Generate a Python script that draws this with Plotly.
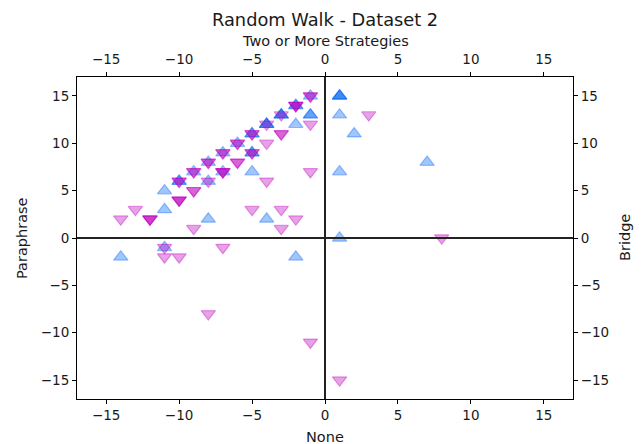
import plotly.graph_objects as go

# Bridge (blue, triangle-up) points; repeated points overlap and look darker
bridge_x = [1, 1, 1, -1, -2, -2, -3, -3, -3, -1, -1, -2, -4, -4, -4, 1, 2,
            -5, -5, -6, -5, -5, -7, -8, -7, -5, -9, -8, -10, -10, -11, -11,
            -8, -4, 1, 7, 1, -11, -14, -2]
bridge_y = [15, 15, 15, 15, 14, 14, 13, 13, 13, 13, 13, 12, 12, 12, 12, 13, 11,
            11, 11, 10, 9, 9, 9, 8, 7, 7, 7, 6, 6, 6, 5, 3,
            2, 2, 7, 8, 0, -1, -2, -2]

# Paraphrase (violet, triangle-down) points
para_x = [-1, -1, -2, -2, -2, -3, -4, -1, -3, -3, -5, -5, -4, -6, -6, -5, -5,
          -7, -7, -6, -6, -8, -8, -7, -7, -7, -9, -9, -8, -10, -10, -4, -1,
          -9, -9, -10, -10, -10, -12, -12, -12, -13, -14, -9, -5, -3, -3, -2,
          -11, -11, -10, -7, -8, -1, 1, 8, 3]
para_y = [15, 15, 14, 14, 14, 13, 12, 12, 11, 11, 11, 11, 10, 10, 10, 9, 9,
          9, 9, 8, 8, 8, 8, 7, 7, 7, 7, 7, 6, 6, 6, 6, 7,
          5, 5, 4, 4, 4, 2, 2, 2, 3, 2, 1, 3, 3, 1, 2,
          -1, -2, -2, -1, -8, -11, -15, 0, 13]

title = "Random Walk - Dataset 2"
x_bottom_label = "None"
x_top_label = "Two or More Strategies"
y_left_label = "Paraphrase"
y_right_label = "Bridge"
axis_range = [-17, 17]
tick_vals = [-15, -10, -5, 0, 5, 10, 15]

BLUE = "rgba(0,100,245,0.37)"
VIOLET = "rgba(191,0,191,0.37)"

fig = go.Figure()
fig.add_trace(go.Scatter(
    x=bridge_x, y=bridge_y, mode="markers",
    marker=dict(symbol="triangle-up", size=12.5, color=BLUE,
                line=dict(color=BLUE, width=1.2)),
    showlegend=False, hoverinfo="skip"))
fig.add_trace(go.Scatter(
    x=para_x, y=para_y, mode="markers",
    marker=dict(symbol="triangle-down", size=12.5, color=VIOLET,
                line=dict(color=VIOLET, width=1.2)),
    showlegend=False, hoverinfo="skip"))
fig.add_trace(go.Scatter(x=[None], y=[None], xaxis="x2", yaxis="y2",
                         mode="markers", showlegend=False, hoverinfo="skip"))

FAM = "DejaVu Sans"
font = dict(family=FAM, size=13.5, color="#1a1a1a")
axcommon = dict(range=axis_range, tickvals=tick_vals, ticks="outside", ticklen=4,
                tickwidth=1, tickcolor="black", showline=True, linecolor="black",
                linewidth=1, showgrid=False, zeroline=False, tickfont=font,
                automargin=False)

lab = dict(family=FAM, size=14.5, color="#1a1a1a")
fig.update_layout(
    width=642, height=444,
    margin=dict(l=77, r=69, t=77, b=45, autoexpand=False),
    paper_bgcolor="white", plot_bgcolor="white",
    font=font,
    xaxis=dict(**axcommon),
    xaxis2=dict(**axcommon, overlaying="x", side="top", ticklabelstandoff=3),
    yaxis=dict(**axcommon),
    yaxis2=dict(**axcommon, overlaying="y", side="right"),
    shapes=[
        dict(type="line", xref="x", yref="paper", x0=0, x1=0, y0=0, y1=1,
             line=dict(color="#222", width=2), layer="above"),
        dict(type="line", xref="paper", yref="y", x0=0, x1=1, y0=0, y1=0,
             line=dict(color="#222", width=2), layer="above"),
    ],
    annotations=[
        dict(text=title, xref="paper", yref="paper", x=0.5, y=1, yshift=58,
             xanchor="center", yanchor="middle", showarrow=False,
             font=dict(family=FAM, size=17.8, color="#1a1a1a")),
        dict(text=x_top_label, xref="paper", yref="paper", x=0.5, y=1, yshift=36,
             xanchor="center", yanchor="middle", showarrow=False, font=lab),
        dict(text=x_bottom_label, xref="paper", yref="paper", x=0.5, y=0, yshift=-38,
             xanchor="center", yanchor="middle", showarrow=False, font=lab),
        dict(text=y_left_label, xref="paper", yref="paper", x=0, y=0.5, xshift=-55,
             xanchor="center", yanchor="middle", showarrow=False, font=lab,
             textangle=-90),
        dict(text=y_right_label, xref="paper", yref="paper", x=1, y=0.5, xshift=52,
             xanchor="center", yanchor="middle", showarrow=False, font=lab,
             textangle=-90),
    ],
)

fig.write_html("out.html",
               config={"displayModeBar": False},
               post_script="document.body.style.margin='0';"
                           "document.body.style.overflow='hidden';")
